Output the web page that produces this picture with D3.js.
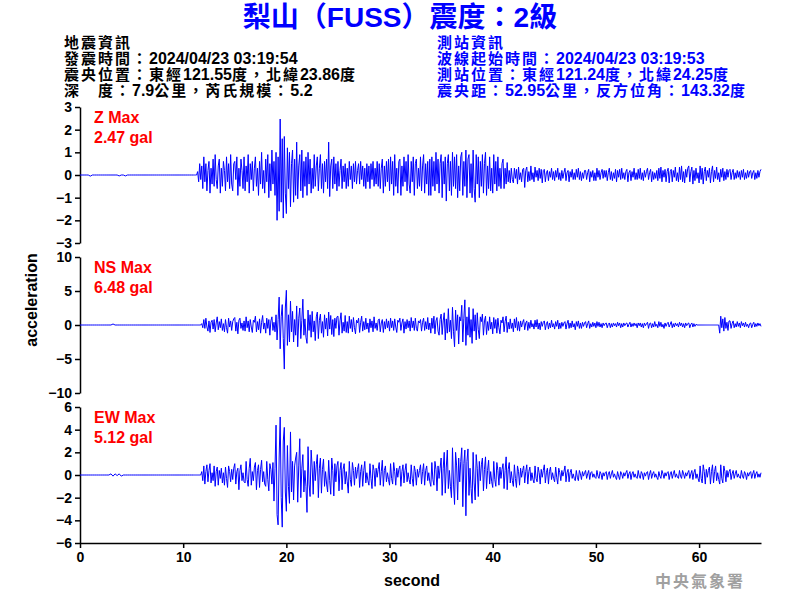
<!doctype html>
<html lang="zh-Hant">
<head>
  <meta charset="utf-8">
  <title>梨山（FUSS）震度：2級</title>
  <style>
  body { margin: 0; background: #fff; }
  svg { display: block; font-family: Arial, "Liberation Sans", "Noto Sans CJK TC", sans-serif; }
  .axis path, .axis line { stroke: #000; stroke-width: 1.5px; }
  .axis text { font-size: 14px; font-weight: bold; fill: #000; }
  .trace { fill: none; stroke: #0000ff; stroke-width: 1px; }
  .maxlab { font-size: 16px; font-weight: bold; fill: #ff0000; }
  </style>
</head>
<body>
  <div id="chart"></div>
  <script src="https://cdn.jsdelivr.net/npm/d3@7"></script>
  <script>
    var title = "梨山（FUSS）震度：2級";
    var quakeInfo = ["地震資訊", "發震時間：2024/04/23 03:19:54", "震央位置：東經121.55度，北緯23.86度", "深　度：7.9公里，芮氏規模：5.2"];
    var stationInfo = ["測站資訊", "波線起始時間：2024/04/23 03:19:53", "測站位置：東經121.24度，北緯24.25度", "震央距：52.95公里，反方位角：143.32度"];

    var components = ["Z", "NS", "EW"];
    var maxValues = ["2.47", "6.48", "5.12"];
    var yLimits = [3, 10, 6];
    var yTicks = [[-3, -2, -1, 0, 1, 2, 3], [-10, -5, 0, 5, 10], [-6, -4, -2, 0, 2, 4, 6]];
    var xTicks = [0, 10, 20, 30, 40, 50, 60];

    // pre-event part: 0 - 10.8 s, one value every 0.2 s (one row = one second)
    var preStep = 0.2;
    var zPre = [
      0,0,0,0,0, -0.05,0,0,0,0, 0,0,0,0,0, 0,0,0,0,-0.04, 0,0,-0.04,0,0, 0,0,0,0,0,
      0,0,0,0,0, 0,0,0,0,0, 0,0,0,0,0, 0,0,0,0,0, 0,0,0,0,0
    ];
    var nsPre = [
      0,0,0,0,0, 0,0,0,0,0, 0,0,0,0,0, 0,0.15,0,0,0, 0,0,0,0,0, 0,0,0,0,0,
      0,0,0,0,0, 0,0,0,0,0, 0,0,0,0,0, 0,0,0,0,0, 0,0,0,0,0
    ];
    var ewPre = [
      0,0,0,0,0, 0,0,0,0,0, 0,0,0,0,0, 0.1,-0.1,0.1,-0.05,0.1, -0.1,0,0,0,0, 0,0,0,0,0,
      0,0,0,0,0, 0,0,0,0,0, 0,0,0,0,0, 0,0,0,0,0, 0,0,0,0,0
    ];

    // record from 11 s to 66 s, one value every 0.1 s (one row = one second), gal
    var mainStart = 11, mainStep = 0.1;
    var zMain = [
      0,0,0,0,0.15,-0.3,0.5,-0.2,0.4,-0.6,
      0.8,-0.3,0.5,-0.7,0.2,0.6,-0.8,0.3,-0.4,0.7,
      -0.5,0.9,-0.2,-0.6,0.4,0.7,-0.8,0.3,-0.5,0.6,
      0.2,-0.7,0.8,-0.3,0.5,-0.6,0.9,-0.4,-0.7,0.5,
      0.6,-0.2,0.8,-0.9,0.3,-0.5,0.7,0.2,-0.6,0.8,
      -0.7,0.4,-0.3,0.9,-0.8,0.5,-0.2,0.6,-0.7,0.3,
      0.8,-0.5,0.3,-0.9,0.6,-0.4,1.0,-0.6,0.2,-0.8,
      0.7,-0.3,0.9,-1.0,0.5,-0.7,1.1,-0.4,0.6,-0.9,
      1.0,-2.0,0.8,-1.6,2.47,-1.2,1.6,-1.9,1.7,-0.8,
      -1.7,1.2,-0.6,1.0,-1.4,0.5,1.1,-1.2,0.7,-0.9,
      1.45,-1.05,0.4,0.9,-0.7,1.1,-1.0,0.6,-0.5,0.8,
      -0.9,1.0,-0.4,0.7,-0.8,0.3,-0.6,0.9,-0.5,0.4,
      0.8,-0.7,0.3,0.9,-0.6,0.5,-0.8,0.6,-0.3,0.7,
      -0.6,1.45,-0.95,0.4,0.7,-0.6,0.8,-0.4,0.5,-0.7,
      0.6,-0.5,0.2,0.7,-0.6,0.4,-0.3,0.5,-0.6,0.3,
      -0.5,0.6,-0.2,0.4,-0.6,0.5,-0.3,0.6,-0.4,0.2,
      0.5,-0.4,0.6,-0.2,0.4,-0.5,0.3,-0.6,0.5,-0.3,
      0.4,-0.6,0.5,-0.2,0.6,-0.5,0.3,-0.4,0.6,-0.5,
      0.5,-0.6,0.3,0.7,-0.8,0.4,-0.5,0.6,-0.3,0.7,
      -0.7,0.8,-0.4,0.6,-0.9,0.9,-0.5,0.3,-0.8,0.6,
      0.7,-0.9,0.4,-0.5,0.8,-0.3,0.6,-0.7,0.9,-0.4,
      -0.8,0.6,-0.3,0.8,-0.9,0.5,0.7,-0.6,0.3,-0.5,
      0.8,-0.7,0.4,0.9,-0.8,0.5,-0.4,0.6,-0.9,0.7,
      -0.9,0.8,-0.5,0.6,-0.7,1.0,-0.4,0.7,-0.8,0.5,
      0.9,-1.0,0.6,-0.4,0.8,-1.15,0.5,0.9,-0.7,0.6,
      -0.9,1.0,-0.5,0.8,-0.6,0.9,-1.0,0.4,-0.7,0.8,
      1.0,-0.9,0.6,-0.5,1.1,-1.0,0.7,0.9,-0.8,0.5,
      -1.0,1.1,-0.6,-1.2,0.9,-0.4,0.8,-1.0,0.6,-0.5,
      0.9,-0.8,0.5,1.0,-0.9,0.4,-0.6,0.8,-0.7,0.3,
      -0.8,0.9,-0.4,0.6,-0.7,0.8,-0.5,0.3,-0.6,0.5,
      0.7,-0.6,0.3,-0.4,0.55,-0.3,0.2,-0.35,0.3,-0.2,
      -0.35,0.3,-0.15,0.25,-0.4,0.35,-0.2,0.1,-0.3,0.25,
      0.3,-0.55,0.2,0.35,-0.3,0.15,-0.25,0.4,-0.2,0.1,
      -0.3,0.35,-0.1,0.2,-0.25,0.3,-0.15,0.25,-0.35,0.2,
      0.25,-0.3,0.1,0.2,-0.25,0.15,-0.1,0.3,-0.2,0.15,
      -0.25,0.2,-0.1,0.3,-0.2,0.1,-0.25,0.2,-0.15,0.1,
      0.3,-0.25,0.1,0.2,-0.3,0.15,-0.1,0.25,-0.2,0.1,
      -0.2,0.25,-0.1,0.3,-0.2,0.15,-0.25,0.1,-0.15,0.2,
      0.2,-0.2,0.1,0.25,-0.3,0.15,-0.1,0.2,-0.25,0.1,
      -0.25,0.3,-0.1,0.2,-0.2,0.1,0.25,-0.15,0.2,-0.1,
      0.2,-0.25,0.1,0.3,-0.2,0.15,-0.25,0.1,-0.15,0.25,
      -0.3,0.2,-0.1,0.25,-0.2,0.3,-0.15,0.1,-0.2,0.15,
      0.25,-0.3,0.1,0.2,-0.25,0.15,-0.1,0.3,-0.2,0.1,
      -0.2,0.25,-0.15,0.3,-0.2,0.1,-0.25,0.2,-0.1,0.15,
      0.3,-0.2,0.1,0.25,-0.3,0.15,-0.2,0.1,-0.15,0.2,
      -0.25,0.3,-0.15,0.35,-0.3,0.2,-0.1,0.25,-0.3,0.15,
      0.3,-0.35,0.15,0.25,-0.3,0.2,-0.1,0.35,-0.25,0.1,
      -0.3,0.35,-0.2,0.4,-0.3,0.15,-0.35,0.25,-0.1,0.3,
      0.4,-0.3,0.15,0.35,-0.4,0.2,-0.25,0.3,-0.15,0.1,
      -0.35,0.4,-0.2,0.3,-0.4,0.15,0.35,-0.25,0.2,-0.1,
      0.3,-0.35,0.15,0.4,-0.3,0.2,-0.15,0.35,-0.2,0.1,
      -0.3,0.25,-0.1,0.3,-0.25,0.15,-0.2,0.25,-0.1,0.2,
      0.25,-0.2,0.1,0.25,-0.2,0.1,-0.15,0.2,-0.1,0.15,
      -0.2,0.2,-0.1,0.25,-0.2,0.1,-0.15,0.2,-0.1,0.15,
      0.2,-0.15,0.1,0.2,-0.2,0.1,-0.15,0.2,-0.1,0.15,
      0.25
    ];
    var nsMain = [
      0,0,0,0,0,0,0,0,0.2,-0.4,
      0.8,-0.5,1.0,-0.3,-0.9,0.6,-1.1,0.4,0.7,-0.6,
      0.8,-1.0,0.3,1.2,-0.7,0.5,-0.4,0.9,-0.8,0.2,
      -1.0,0.8,-0.4,-1.2,1.0,-0.3,0.6,-0.8,0.5,0.9,
      1.1,-0.9,0.4,-1.3,0.7,1.0,-0.5,0.3,-0.8,0.6,
      -0.9,1.2,-0.4,0.6,-1.0,0.8,-0.3,-1.1,0.7,0.4,
      1.3,-1.0,0.5,-0.7,0.9,-1.2,0.4,1.4,-0.6,0.3,
      -1.2,1.0,-0.5,0.8,-1.5,0.6,1.2,-0.8,0.4,-1.0,
      1.5,-2.2,0.8,4.1,-3.5,1.2,3.0,-2.0,-6.48,2.5,
      5.1,-3.0,1.5,-2.5,3.5,-1.0,2.0,-2.5,0.8,-1.5,
      2.8,-3.2,1.0,2.5,-2.0,0.7,3.8,-1.5,0.9,-1.8,
      -2.7,2.2,-0.8,1.5,-1.8,2.0,-1.0,0.6,-2.3,1.2,
      1.9,-2.0,0.7,1.6,-1.2,0.5,-1.8,1.5,-0.6,1.0,
      -1.6,1.9,-0.6,1.4,-1.4,0.8,-1.7,1.0,-0.5,1.2,
      1.3,-1.5,0.6,1.8,-1.2,0.4,-0.9,1.4,-1.1,0.5,
      -1.2,1.3,-0.5,0.8,-1.0,1.1,-0.4,-1.3,0.7,0.3,
      1.0,-1.1,0.4,1.3,-0.9,0.5,-0.7,1.0,-0.6,0.3,
      -1.1,0.9,-0.4,0.6,-1.0,1.2,-0.5,0.3,-0.8,0.7,
      0.9,-1.0,0.3,0.8,-1.1,0.5,-0.6,0.9,-0.4,0.6,
      -0.9,1.0,-0.4,0.6,-0.8,0.9,-0.3,-1.1,0.7,0.4,
      1.0,-0.8,0.3,0.9,-1.2,0.5,-0.6,0.8,-0.4,0.6,
      -0.9,1.1,-0.4,0.6,-0.8,1.0,-0.5,-0.9,0.6,0.3,
      0.8,-0.9,0.4,1.0,-0.8,0.5,-0.6,1.1,-0.7,0.3,
      -1.2,1.0,-0.5,1.3,-1.3,0.6,1.1,-0.9,-1.5,0.8,
      1.6,-1.4,0.6,1.8,-2.2,0.9,-1.2,2.4,-1.0,0.7,
      -2.0,2.6,-1.0,-3.2,2.2,-0.8,1.5,-2.8,1.2,0.6,
      2.9,-2.5,1.0,3.7,-3.0,1.2,-1.5,2.6,-1.8,0.8,
      -2.7,2.4,-0.9,1.5,-2.2,1.8,-0.7,-2.0,1.2,0.5,
      1.6,-1.5,0.6,1.3,-1.4,0.5,-0.8,1.2,-0.6,0.4,
      -1.3,1.1,-0.5,0.8,-1.2,1.0,-0.4,-1.3,0.7,0.3,
      1.2,-1.0,0.5,1.3,-1.1,0.4,-0.6,0.9,-0.5,0.3,
      -1.0,0.9,-0.4,1.1,-0.8,0.5,-0.9,0.6,-0.3,0.4,
      0.8,-0.7,0.3,0.6,-0.8,0.4,-0.5,0.7,-0.3,0.2,
      -0.6,0.7,-0.3,0.8,-0.6,0.3,-0.7,0.5,-0.2,0.4,
      0.6,-0.7,0.2,0.5,-0.6,0.3,-0.4,0.7,-0.3,0.2,
      -0.6,0.5,-0.2,0.7,-0.6,0.3,-0.5,0.4,-0.2,0.3,
      0.5,-0.6,0.2,0.7,-0.5,0.3,-0.4,0.6,-0.3,0.2,
      -0.7,0.5,-0.2,0.6,-0.5,0.3,-0.5,0.4,-0.2,0.3,
      0.5,-0.4,0.2,0.6,-0.5,0.2,-0.3,0.4,-0.2,0.3,
      -0.4,0.5,-0.2,0.4,-0.3,0.2,-0.4,0.3,-0.1,0.2,
      0.3,-0.4,0.1,0.3,-0.4,0.2,-0.3,0.3,-0.1,0.2,
      -0.3,0.4,-0.1,0.3,-0.4,0.2,-0.3,0.3,-0.1,0.2,
      0.3,-0.3,0.1,0.4,-0.3,0.2,-0.2,0.3,-0.1,0.2,
      -0.4,0.3,-0.1,0.3,-0.3,0.2,-0.4,0.3,-0.1,0.2,
      0.4,-0.5,0.2,0.3,-0.4,0.2,-0.3,0.5,-0.2,0.1,
      -0.4,0.5,-0.2,0.4,-0.3,0.1,-0.5,0.3,-0.2,0.2,
      0.4,-0.3,0.1,0.5,-0.4,0.2,-0.3,0.3,-0.1,0.2,
      -0.3,0.4,-0.1,0.3,-0.3,0.2,-0.4,0.3,-0.1,0.2,
      0.3,-0.4,0.1,0.3,-0.3,0.2,-0.2,0.1,0,0,
      0,0,0,0,0,0,0,0,0,0,
      0,0,0,0,0,0,0,0,0,0,
      -1.2,1.3,-0.4,0.9,-0.9,1.1,-0.5,0.4,-0.8,0.6,
      0.6,-0.5,0.2,0.6,-0.4,0.2,-0.3,0.5,-0.2,0.3,
      -0.4,0.5,-0.1,0.3,-0.3,0.4,-0.2,0.1,-0.4,0.2,
      0.3,-0.4,0.1,0.4,-0.3,0.2,-0.2,0.3,-0.1,0.2,
      -0.2
    ];
    var ewMain = [
      0,0,0,0,0,0,0,0,0.3,-0.5,
      0.8,-0.8,0.3,0.9,-0.6,0.4,1.0,-0.7,0.2,-0.5,
      0.8,-1.0,0.3,0.7,-0.9,0.4,-0.3,0.6,-0.7,0.2,
      -0.9,0.7,-0.3,-1.1,0.8,0.3,-0.6,0.5,-0.4,0.6,
      1.0,-0.8,0.3,0.6,-1.3,0.4,0.9,-0.5,0.2,-0.6,
      -0.7,1.2,-0.4,-1.0,0.6,1.47,-0.9,0.3,-0.5,0.7,
      1.1,-1.3,0.4,0.9,-1.1,0.5,1.3,-0.6,0.3,-0.8,
      -1.0,1.2,-0.4,-1.4,1.0,0.5,-0.8,1.1,-2.3,0.6,
      4.4,-3.5,-4.4,1.5,5.12,-2.0,-4.6,3.0,4.2,-1.5,
      -3.2,2.6,-1.0,-2.5,3.8,-1.5,1.2,-2.2,0.8,1.5,
      2.0,-2.4,0.8,3.2,-2.0,0.6,1.8,-1.5,0.4,-1.0,
      -3.3,2.5,-0.8,-1.9,2.2,0.7,-1.7,1.2,-0.5,0.9,
      1.8,-2.0,0.6,1.5,-1.6,0.5,1.4,-1.0,0.3,-0.8,
      -1.5,1.3,-0.5,-1.7,1.5,0.4,-1.85,1.0,-0.6,0.8,
      1.2,-1.4,0.4,1.1,-1.3,0.5,1.0,-0.8,0.3,-0.6,
      -1.6,1.2,-0.4,-1.0,1.1,0.4,-0.9,0.7,-0.3,0.5,
      1.0,-1.1,0.3,0.9,-1.0,0.4,1.2,-0.7,0.2,-0.5,
      -0.9,1.0,-0.3,-1.2,0.9,0.4,-1.0,0.6,-0.2,0.5,
      1.1,-0.9,0.3,1.3,-1.0,0.4,0.8,-0.6,0.2,-0.4,
      -0.9,1.0,-0.3,-0.8,1.1,0.3,-0.9,0.6,-0.2,0.5,
      0.8,-1.0,0.3,0.9,-0.7,0.4,1.0,-0.6,0.2,-0.4,
      -0.8,0.9,-0.3,-1.0,0.8,0.3,-0.9,0.5,-0.2,0.4,
      0.9,-0.8,0.3,1.0,-0.9,0.4,0.8,-0.5,0.2,-0.6,
      -1.0,1.1,-0.4,-0.9,1.2,0.5,-1.4,0.8,-0.3,0.6,
      1.5,-1.8,0.6,2.0,-1.6,0.7,2.2,-1.2,0.4,-1.0,
      -2.0,2.4,-0.8,-2.6,2.0,0.8,-2.2,1.5,-0.6,1.2,
      2.4,-2.8,1.0,2.2,-3.6,1.2,2.3,-1.8,0.6,-1.2,
      -2.5,2.0,-0.7,-2.2,1.8,0.6,-1.9,1.2,-0.5,0.9,
      1.5,-1.4,0.5,1.6,-1.2,0.4,1.3,-0.8,0.3,-0.6,
      -1.1,1.2,-0.4,-1.0,1.1,0.4,-0.9,0.7,-0.3,0.5,
      1.0,-1.2,0.4,1.6,-1.3,0.5,1.1,-0.7,0.3,-0.5,
      -1.0,0.9,-0.3,-1.1,0.8,0.3,-0.9,0.6,-0.2,0.4,
      0.8,-0.7,0.3,0.9,-0.8,0.3,0.7,-0.5,0.2,-0.4,
      -0.7,0.8,-0.3,-0.6,0.7,0.2,-0.8,0.5,-0.2,0.4,
      0.9,-0.7,0.2,0.6,-0.8,0.3,0.7,-0.4,0.2,-0.3,
      -0.6,0.7,-0.2,-0.8,0.6,0.2,-0.5,0.4,-0.1,0.3,
      0.8,-0.6,0.2,0.5,-0.6,0.2,0.5,-0.3,0.1,-0.3,
      -0.5,0.4,-0.2,-0.5,0.4,0.1,-0.4,0.3,-0.1,0.2,
      0.4,-0.3,0.1,0.4,-0.4,0.2,0.3,-0.2,0.1,-0.2,
      -0.3,0.4,-0.1,-0.3,0.3,0.1,-0.4,0.2,-0.1,0.2,
      0.3,-0.4,0.1,0.3,-0.3,0.1,0.4,-0.2,0.1,-0.2,
      -0.4,0.3,-0.1,-0.4,0.3,0.1,-0.3,0.2,-0.1,0.2,
      0.4,-0.3,0.1,0.3,-0.4,0.1,0.3,-0.2,0.1,-0.2,
      -0.3,0.4,-0.1,-0.3,0.3,0.1,-0.4,0.2,-0.1,0.2,
      0.3,-0.4,0.1,0.4,-0.3,0.1,0.3,-0.2,0.1,-0.2,
      -0.4,0.3,-0.1,-0.3,0.4,0.1,-0.3,0.2,-0.1,0.2,
      0.3,-0.4,0.1,0.3,-0.3,0.1,0.4,-0.2,0.1,-0.2,
      -0.3,0.4,-0.1,-0.3,0.4,0.1,-0.3,0.2,-0.1,0.2,
      0.4,-0.3,0.1,0.4,-0.4,0.2,0.5,-0.3,0.1,-0.3,
      -0.6,0.8,-0.3,-0.7,0.9,0.3,-0.8,0.5,-0.2,0.4,
      0.7,-0.8,0.3,0.9,-0.7,0.3,0.8,-0.5,0.2,-0.4,
      -0.8,0.9,-0.3,-0.7,0.8,0.3,-0.6,0.4,-0.2,0.3,
      0.5,-0.4,0.1,0.4,-0.3,0.1,0.4,-0.2,0.1,-0.2,
      -0.3,0.4,-0.1,-0.3,0.3,0.1,-0.4,0.2,-0.1,0.2,
      0.3,-0.3,0.1,0.4,-0.3,0.1,0.3,-0.2,0.1,-0.2,
      0.2
    ];

    var pre = [zPre, nsPre, ewPre];
    var main = [zMain, nsMain, ewMain];

    (function() {
      var width = 800, height = 600;
      var left = 80, right = 761;
      var panelTop = [107, 257, 407], panelH = 136;

      var svg = d3.select("#chart").append("svg")
          .attr("width", width)
          .attr("height", height);

      svg.append("rect").attr("width", width).attr("height", height).attr("fill", "#fff");

      // CJK and latin runs get their own size/weight, like the original bitmap fonts
      var addRuns = function(sel, str, cjkSize, latinSize, cjkWeight, cjkSpacing) {
        var runs = str.match(/[\x00-\x7F]+|[^\x00-\x7F]+/g);
        runs.forEach(function(r) {
          var latin = /^[\x00-\x7F]/.test(r);
          var ts = sel.append("tspan")
            .attr("font-size", (latin ? latinSize : cjkSize) + "px")
            .attr("font-weight", latin ? "bold" : cjkWeight)
            .attr("xml:space", "preserve")
            .text(r);
          if (!latin && cjkSpacing) ts.attr("letter-spacing", cjkSpacing + "px");
        });
      };

      var t = svg.append("text")
        .attr("x", 400).attr("y", 27)
        .attr("text-anchor", "middle")
        .attr("fill", "#0000ff");
      addRuns(t, title, 28, 28, "bold", 0);

      quakeInfo.forEach(function(s, i) {
        var tx = svg.append("text").attr("x", 64).attr("y", 48 + i * 16).attr("fill", "#000");
        addRuns(tx, s, 15, 16, "bold", 2);
      });
      stationInfo.forEach(function(s, i) {
        var tx = svg.append("text").attr("x", 437).attr("y", 48 + i * 16).attr("fill", "#0000ff");
        addRuns(tx, s, 15, 16, "bold", 2);
      });

      var x = d3.scaleLinear().domain([0, 66]).range([left, right]);

      components.forEach(function(c, k) {
        var top = panelTop[k];
        var y = d3.scaleLinear().domain([-yLimits[k], yLimits[k]]).range([top + panelH, top]);

        svg.append("g")
          .attr("class", "axis")
          .attr("transform", "translate(" + left + ",0)")
          .call(d3.axisLeft(y).tickValues(yTicks[k]).tickFormat(d3.format("d"))
            .tickSize(5).tickSizeOuter(0).tickPadding(3));

        var pts = pre[k].map(function(v, i) { return [i * preStep, v]; })
          .concat(main[k].map(function(v, i) { return [mainStart + i * mainStep, v]; }));

        var line = d3.line()
          .x(function(d) { return x(d[0]); })
          .y(function(d) { return y(d[1]); });

        svg.append("path")
          .datum(pts)
          .attr("class", "trace")
          .attr("d", line);

        svg.append("text").attr("class", "maxlab")
          .attr("x", 94).attr("y", top + 16)
          .text(c + " Max");
        svg.append("text").attr("class", "maxlab")
          .attr("x", 94).attr("y", top + 36)
          .text(maxValues[k] + " gal");
      });

      svg.append("g")
        .attr("class", "axis")
        .attr("transform", "translate(0," + (panelTop[2] + panelH) + ")")
        .call(d3.axisBottom(x).tickValues(xTicks).tickSize(5).tickSizeOuter(0).tickPadding(4));

      svg.append("text")
        .attr("x", 412).attr("y", 586)
        .attr("text-anchor", "middle")
        .attr("font-size", "16px").attr("font-weight", "bold")
        .text("second");

      svg.append("text")
        .attr("transform", "translate(37,300) rotate(-90)")
        .attr("text-anchor", "middle")
        .attr("font-size", "16px").attr("font-weight", "bold")
        .text("acceleration");

      svg.append("text")
        .attr("x", 745).attr("y", 587)
        .attr("text-anchor", "end")
        .attr("font-size", "16px").attr("font-weight", "bold")
        .attr("fill", "#a0a0a0")
        .attr("letter-spacing", "2px")
        .text("中央氣象署");
    })();
  </script>
</body>
</html>
